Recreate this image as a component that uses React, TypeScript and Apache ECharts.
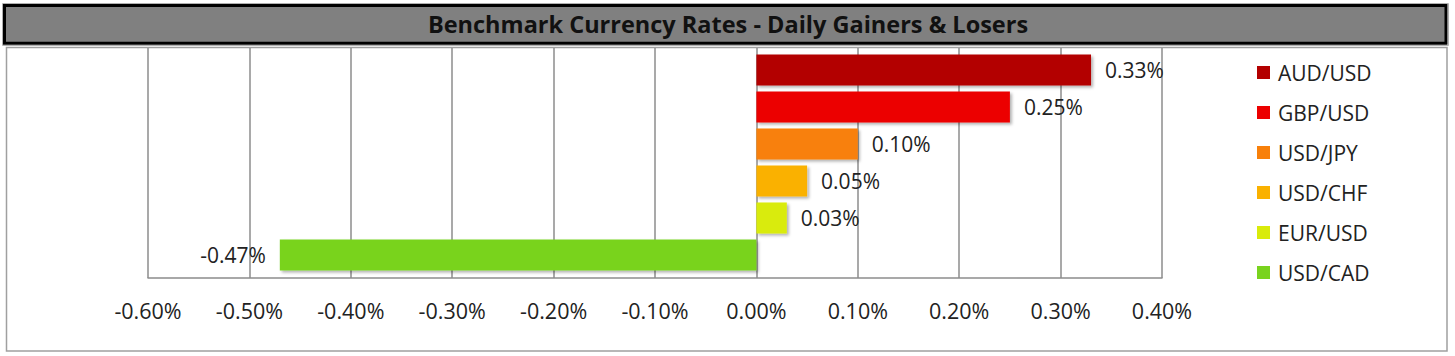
import React, { useEffect, useRef } from "react";
import * as echarts from "echarts";

const categories = ["AUD/USD", "GBP/USD", "USD/JPY", "USD/CHF", "EUR/USD", "USD/CAD"];
const values = [0.33, 0.25, 0.1, 0.05, 0.03, -0.47];
const colors = ["#B30000", "#EC0000", "#F8800A", "#FAB100", "#D9EB0A", "#79D31E"];
const axisMin = -0.6;
const axisMax = 0.4;
const axisStep = 0.1;
const titleText = "Benchmark Currency Rates - Daily Gainers & Losers";

const FONT = "'Open Sans', 'DejaVu Sans', sans-serif";

export default function App() {
  const ref = useRef<HTMLDivElement>(null);
  useEffect(() => {
    if (!ref.current) return;
    const chart = echarts.init(ref.current, null, { renderer: "svg" });
    const fmt = (v: number) => `${v.toFixed(2)}%`;
    const series = categories.map((name, i) => ({
      name,
      type: "bar",
      stack: "all",
      xAxisIndex: 1,
      yAxisIndex: 1,
      barWidth: 31,
      data: categories.map((_, j) => (j === i ? values[i] : "-")),
      itemStyle: {
        color: colors[i],
        shadowBlur: 3,
        shadowOffsetX: 2,
        shadowOffsetY: 2,
        shadowColor: "rgba(0,0,0,0.3)",
      },
      label: {
        show: true,
        position: values[i] >= 0 ? "right" : "left",
        distance: 14,
        formatter: (p: any) => fmt(p.value),
        fontFamily: FONT,
        fontSize: 21,
        color: "#222",
      },
    }));
    chart.setOption({
      animation: false,
      backgroundColor: "#fff",
      textStyle: { fontFamily: FONT },
      graphic: [
        {
          type: "rect",
          z: 0,
          shape: { x: 2.5, y: 3.5, width: 1446, height: 42 },
          style: { fill: "transparent", stroke: "#b0b0b0", lineWidth: 1 },
        },
        {
          type: "rect",
          z: 0,
          shape: { x: 4.5, y: 5.5, width: 1441.5, height: 37.8 },
          style: { fill: "#808080", stroke: "#000", lineWidth: 3 },
        },
        {
          type: "text",
          z: 1,
          x: 728,
          y: 24,
          style: {
            text: titleText,
            align: "center",
            verticalAlign: "middle",
            fontFamily: FONT,
            fontWeight: "bold",
            fontSize: 23.5,
            fill: "#111",
          },
        },
        {
          type: "rect",
          z: 0,
          shape: { x: 6.5, y: 47.5, width: 1440.5, height: 303.5 },
          style: { fill: "transparent", stroke: "#a0a0a0", lineWidth: 1.5 },
        },
      ],
      legend: {
        orient: "vertical",
        left: 1252,
        top: 57,
        itemWidth: 13,
        itemHeight: 13,
        itemGap: 19,
        icon: "rect",
        data: categories,
        textStyle: {
          fontFamily: FONT,
          fontSize: 21,
          color: "#222",
          padding: [0, 0, 0, 3],
        },
      },
      grid: [
        { left: 148, top: 48, width: 1014, height: 230 },
        { left: 148, top: 51.5, width: 1014, height: 222 },
      ],
      xAxis: [
        {
          type: "value",
          gridIndex: 0,
          min: axisMin,
          max: axisMax,
          interval: axisStep,
          position: "bottom",
          axisLine: { show: true, onZero: false, lineStyle: { color: "#8c8c8c", width: 1.5 } },
          axisTick: { show: false },
          splitLine: { show: true, lineStyle: { color: "#8c8c8c", width: 1.5 } },
          axisLabel: {
            margin: 21,
            formatter: (v: number) => fmt(v),
            fontFamily: FONT,
            fontSize: 21.5,
            color: "#222",
          },
        },
        {
          type: "value",
          gridIndex: 1,
          min: axisMin,
          max: axisMax,
          interval: axisStep,
          show: false,
        },
      ],
      yAxis: [
        { type: "category", gridIndex: 0, data: categories, show: false },
        { type: "category", gridIndex: 1, data: categories, inverse: true, show: false },
      ],
      series,
    });
    return () => chart.dispose();
  }, []);
  return (
    <div
      ref={ref}
      style={{ position: "absolute", left: 0, top: 0, width: 1455, height: 356 }}
    />
  );
}
